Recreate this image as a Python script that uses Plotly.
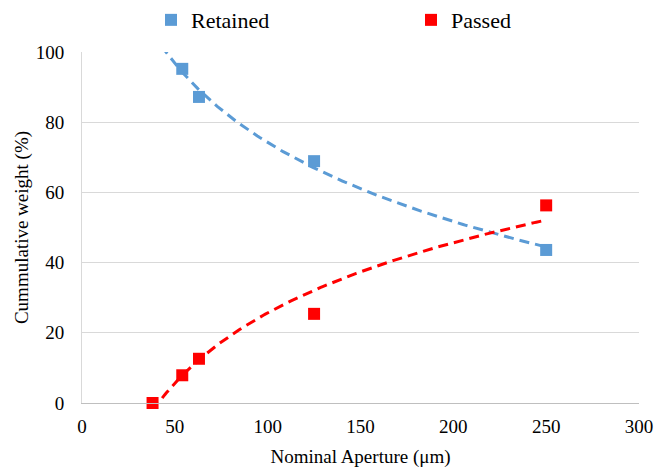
import numpy as np
import plotly.graph_objects as go

# Data
retained_x = [54, 63, 125, 250]
retained_y = [95.2, 87.2, 68.9, 43.6]
passed_x = [38, 54, 63, 125, 250]
passed_y = [0, 7.9, 12.6, 25.4, 56.3]

x_ticks = [0, 50, 100, 150, 200, 250, 300]
y_ticks = [0, 20, 40, 60, 80, 100]

BLUE = "#5B9BD5"
RED = "#FF0000"
FONT = '"Liberation Serif", "Times New Roman", serif'


def log_fit(xs, ys, x_from, x_to):
    b, a = np.polyfit(np.log(xs), ys, 1)
    xx = np.linspace(x_from, x_to, 200)
    return xx, a + b * np.log(xx)


x_lo = min(passed_x + retained_x)
x_hi = max(passed_x + retained_x)
rt_x, rt_y = log_fit(retained_x, retained_y, x_lo, x_hi)
pt_x, pt_y = log_fit(passed_x, passed_y, x_lo, x_hi)

fig = go.Figure()
fig.add_trace(go.Scatter(x=rt_x, y=rt_y, mode="lines", showlegend=False,
                         line=dict(color=BLUE, width=3, dash="10px,6px"), hoverinfo="skip"))
fig.add_trace(go.Scatter(x=pt_x, y=pt_y, mode="lines", showlegend=False,
                         line=dict(color=RED, width=3, dash="10px,6px"), hoverinfo="skip"))
fig.add_trace(go.Scatter(x=retained_x, y=retained_y, mode="markers", name="Retained",
                         marker=dict(symbol="square", size=12, color=BLUE), cliponaxis=False))
fig.add_trace(go.Scatter(x=passed_x, y=passed_y, mode="markers", name="Passed",
                         marker=dict(symbol="square", size=12, color=RED), cliponaxis=False))

tick_font = dict(family=FONT, size=19, color="#000000")
title_font = dict(family=FONT, size=19, color="#000000")

fig.update_layout(
    template="none",
    width=656, height=468,
    margin=dict(l=82, r=17, t=52, b=65, autoexpand=False),
    paper_bgcolor="white", plot_bgcolor="white",
    font=dict(family=FONT, size=19, color="#000000"),
    legend=dict(orientation="h", x=0.1239, xanchor="left", y=1.091, yanchor="middle",
                entrywidth=215, entrywidthmode="pixels",
                font=dict(size=22, family=FONT, color="#000000"), bgcolor="rgba(0,0,0,0)",
                itemsizing="constant"),
    xaxis=dict(range=[0, 300], tickvals=x_ticks, ticktext=[str(v) for v in x_ticks],
               tickfont=tick_font,
               showgrid=False, zeroline=False, showline=True, linecolor="#BFBFBF", linewidth=1,
               ticks="", ticklabelstandoff=6, ticklabeloverflow="allow",
               title=dict(text="Nominal Aperture (μm)", font=title_font, standoff=18)),
    yaxis=dict(range=[0, 100], tickvals=y_ticks, ticktext=[str(v) for v in y_ticks],
               tickfont=tick_font,
               showgrid=True, gridcolor="#D9D9D9", gridwidth=1, zeroline=False,
               showline=True, linecolor="#D9D9D9", linewidth=1,
               ticks="", ticklabelstandoff=13,
               title=dict(text="Cummulative weight (%)", font=title_font, standoff=2)),
)

fig.write_html("out.html", config={"displayModeBar": False},
               post_script="document.body.style.margin='0';document.body.style.overflow='hidden';")
